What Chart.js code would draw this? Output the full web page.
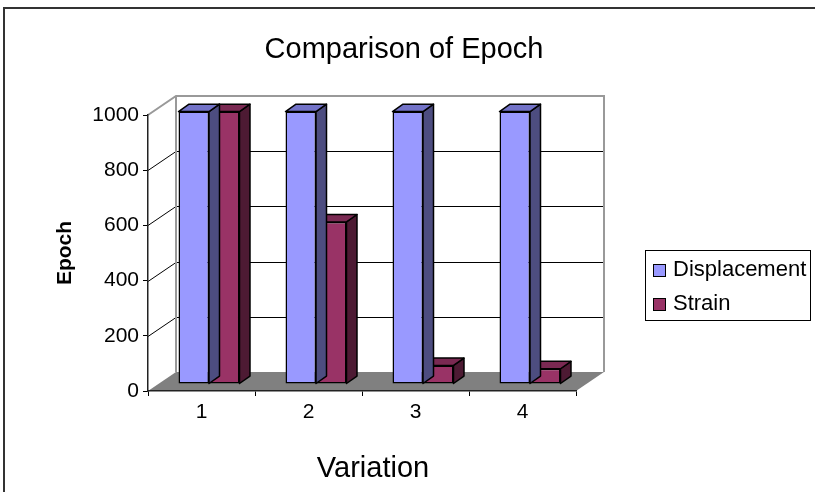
<!DOCTYPE html>
<html>
<head>
<meta charset="utf-8">
<title>Comparison of Epoch</title>
<script src="https://cdn.jsdelivr.net/npm/chart.js@4.4.0/dist/chart.umd.min.js"></script>
<style>
	html, body { margin: 0; padding: 0; background: #fff; }
	canvas { display: block; }
</style>
</head>
<body>
<canvas id="epochChart" width="815" height="492"></canvas>
<script>
var categories = ["1", "2", "3", "4"];
var displacement = [1000, 1000, 1000, 1000];
var strain = [1000, 595, 68, 56];
var yTicks = [0, 200, 400, 600, 800, 1000];

var FONT = "'Liberation Sans', Arial, sans-serif";
var back = { dx: 28, dy: -19 };    // floor / back wall depth
var front = { dx: 7.5, dy: -7 };   // where the row of bars stands
var depth = { dx: 10.5, dy: -7.5 };  // thickness of a bar
var barScaleY = 0.987;

var faceColors = [
	{ top: "#7373c8", side: "#4d4d80" },
	{ top: "#7a2952", side: "#4d1a33" }
];

function poly(ctx, pts, fill) {
	ctx.beginPath();
	ctx.moveTo(pts[0][0], pts[0][1]);
	for (var i = 1; i < pts.length; i++) ctx.lineTo(pts[i][0], pts[i][1]);
	ctx.closePath();
	if (fill) { ctx.fillStyle = fill; ctx.fill(); }
}

var excel3d = {
	id: 'excel3d',
	beforeDraw: function(chart) {
		var ctx = chart.ctx, y = chart.scales.y;
		var a = chart.chartArea;
		var l = a.left, r = a.right, b = a.bottom;
		var t = y.getPixelForValue(yTicks[yTicks.length - 1]);
		ctx.save();
		// outer frame
		ctx.strokeStyle = '#333';
		ctx.lineWidth = 2;
		ctx.strokeRect(4, 8, 1000, 1000);
		// floor
		poly(ctx, [[l, b], [r, b], [r + back.dx, b + back.dy], [l + back.dx, b + back.dy]], '#808080');
		// grid lines on side and back wall
		ctx.strokeStyle = '#000';
		ctx.lineWidth = 1;
		yTicks.slice(1, -1).forEach(function(v) {
			var py = Math.round(y.getPixelForValue(v)) + 0.5;
			ctx.beginPath();
			ctx.moveTo(l, py);
			ctx.lineTo(l + back.dx, py + back.dy);
			ctx.lineTo(r + back.dx, py + back.dy);
			ctx.stroke();
		});
		// wall outline
		ctx.strokeStyle = '#999';
		ctx.lineWidth = 2;
		ctx.beginPath();
		ctx.moveTo(l, t);
		ctx.lineTo(l + back.dx, t + back.dy);
		ctx.lineTo(r + back.dx, t + back.dy);
		ctx.lineTo(r + back.dx, b + back.dy);
		ctx.moveTo(l + back.dx, t + back.dy);
		ctx.lineTo(l + back.dx, b + back.dy);
		ctx.stroke();
		ctx.restore();
	},
	beforeDatasetDraw: function(chart, args) {
		var ctx = chart.ctx, b = chart.chartArea.bottom;
		var colors = faceColors[args.index];
		ctx.save();
		ctx.translate(front.dx, b + front.dy);
		ctx.scale(1, barScaleY);
		ctx.translate(0, -b);
		ctx.strokeStyle = '#000';
		ctx.lineWidth = 1.5;
		ctx.lineJoin = 'round';
		args.meta.data.forEach(function(el) {
			var p = el.getProps(['x', 'y', 'base', 'width'], true);
			var x0 = p.x - p.width / 2, x1 = p.x + p.width / 2;
			var yt = Math.min(p.y, p.base), yb = Math.max(p.y, p.base);
			poly(ctx, [[x1, yt], [x1 + depth.dx, yt + depth.dy], [x1 + depth.dx, yb + depth.dy], [x1, yb]], colors.side);
			ctx.stroke();
			poly(ctx, [[x0, yt], [x1, yt], [x1 + depth.dx, yt + depth.dy], [x0 + depth.dx, yt + depth.dy]], colors.top);
			ctx.stroke();
		});
	},
	afterDatasetDraw: function(chart) {
		chart.ctx.restore();
	},
	afterDraw: function(chart) {
		var ctx = chart.ctx;
		ctx.save();
		ctx.fillStyle = '#000';
		ctx.textBaseline = 'alphabetic';
		ctx.textAlign = 'center';
		ctx.font = '29px ' + FONT;
		ctx.fillText('Comparison of Epoch', 404, 58);
		ctx.fillText('Variation', 373, 477);
		// legend
		ctx.strokeStyle = '#000';
		ctx.lineWidth = 1;
		ctx.strokeRect(645.5, 250.5, 165, 70);
		ctx.textAlign = 'left';
		ctx.font = '22px ' + FONT;
		chart.data.datasets.forEach(function(ds, i) {
			var top = 264 + i * 34;
			ctx.fillStyle = ds.backgroundColor;
			ctx.fillRect(653, top, 13, 13);
			ctx.strokeRect(653.5, top + 0.5, 12, 12);
			ctx.fillStyle = '#000';
			ctx.fillText(ds.label, 673, top + 12);
		});
		ctx.restore();
	}
};

Chart.defaults.font.family = FONT;
Chart.defaults.color = '#000';

var ctx = document.getElementById('epochChart');
var myChart = new Chart(ctx, {
	type: 'bar',
	data: {
		labels: categories,
		datasets: [
			{ label: 'Displacement', data: displacement, backgroundColor: '#9999ff' },
			{ label: 'Strain', data: strain, backgroundColor: '#993366' }
		]
	},
	options: {
		responsive: false,
		animation: false,
		devicePixelRatio: 1,
		layout: { padding: { top: 115, right: 239, bottom: 0, left: 0 } },
		datasets: {
			bar: {
				categoryPercentage: 0.57,
				barPercentage: 1,
				borderColor: '#000',
				borderWidth: 1.5,
				borderSkipped: false,
				clip: false
			}
		},
		plugins: {
			legend: { display: false },
			title: { display: false },
			tooltip: { enabled: false }
		},
		scales: {
			x: {
				afterFit: function(scale) { scale.height = 101; },
				grid: { drawOnChartArea: false, tickLength: 5, color: '#000' },
				border: { color: '#222', width: 1.5 },
				ticks: { font: { size: 21 }, padding: 4 }
			},
			y: {
				min: 0,
				max: 1000,
				afterFit: function(scale) { scale.width = 148; },
				afterBuildTicks: function(scale) {
					scale.ticks = yTicks.map(function(v) { return { value: v }; });
				},
				grid: { drawOnChartArea: false, tickLength: 5, color: '#000' },
				border: { color: '#222', width: 1.5 },
				ticks: {
					font: { size: 21 },
					padding: 4,
					callback: function(v) { return String(v); }
				},
				title: {
					display: true,
					text: 'Epoch',
					font: { size: 21, weight: 'bold' },
					padding: { top: 52.4, bottom: 0 }
				}
			}
		}
	},
	plugins: [excel3d]
});
</script>
</body>
</html>
